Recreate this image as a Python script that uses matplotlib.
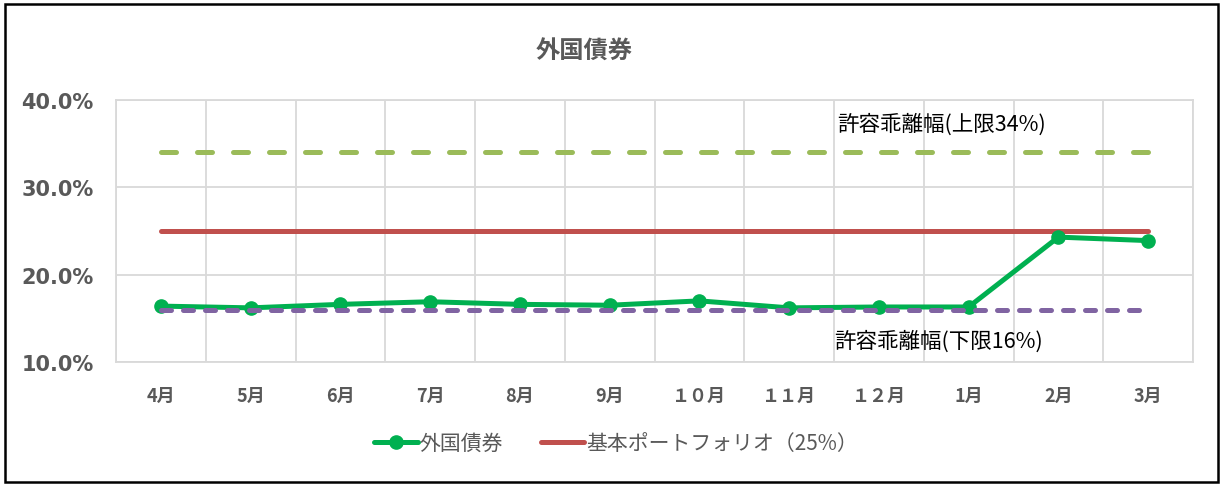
import matplotlib.pyplot as plt
from matplotlib.patches import Rectangle
from matplotlib.ticker import FuncFormatter

# data
months = ['4月', '5月', '6月', '7月', '8月', '9月', '１０月', '１１月', '１２月', '1月', '2月', '3月']
foreign_bonds = [16.4, 16.2, 16.6, 16.9, 16.6, 16.5, 17.0, 16.2, 16.3, 16.3, 24.3, 23.9]
base_portfolio = [25.0] * 12
upper_limit = [34.0] * 12
lower_limit = [16.0] * 12

jp = ['Noto Sans CJK JP', 'DejaVu Sans']
gray = '#595959'

fig = plt.figure(figsize=(12.23, 4.85), dpi=100)
ax = fig.add_axes([116 / 1223, 1 - 363 / 485, (1193 - 116) / 1223, (363 - 101) / 485])

x = list(range(len(months)))

ax.plot(x, upper_limit, color='#9BBB59', lw=3.6, dashes=(3.0, 4.2),
        dash_capstyle='round', zorder=3)
ax.plot(x, base_portfolio, color='#C0504D', lw=3.6, solid_capstyle='round',
        zorder=3, label='基本ポートフォリオ（25%）')
ax.plot(x, foreign_bonds, color='#00B050', lw=3.6, marker='o', markersize=9.5,
        solid_capstyle='round', zorder=4, label='外国債券')
ax.plot(x, lower_limit, color='#8064A2', lw=3.6, dashes=(2.0, 2.4),
        dash_capstyle='round', zorder=5)

ax.set_xlim(-0.5, 11.5)
ax.set_ylim(10, 40)
ax.set_yticks([10, 20, 30, 40])
ax.yaxis.set_major_formatter(FuncFormatter(lambda v, p: f'{v:.1f}%'))
ax.set_xticks([i - 0.5 for i in range(13)], minor=True)
ax.set_xticks(x)
ax.set_xticklabels(months, family=jp, fontweight='bold', fontsize=13, color=gray)
for lab in ax.get_yticklabels():
    lab.set_fontweight('bold')
    lab.set_fontsize(15)
    lab.set_color(gray)
    lab.set_family('DejaVu Sans')

ax.tick_params(axis='both', which='both', length=0)
ax.tick_params(axis='x', pad=17)
ax.tick_params(axis='y', pad=16)
ax.grid(True, axis='y', which='major', color='#D9D9D9', lw=1.3)
ax.grid(True, axis='x', which='minor', color='#D9D9D9', lw=1.3)
for s in ax.spines.values():
    s.set_color('#D9D9D9')
    s.set_linewidth(1.3)

ax.text(7.53, 37.3, '許容乖離幅(上限34%)', family=jp, fontsize=15.5,
        color='black', va='center', ha='left')
ax.text(7.5, 12.4, '許容乖離幅(下限16%)', family=jp, fontsize=15.5,
        color='black', va='center', ha='left')

fig.text(584 / 1223, 1 - 52 / 485, '外国債券', family=jp, fontsize=17.5,
         fontweight='bold', color=gray, ha='center', va='center')

handles, labels = ax.get_legend_handles_labels()
leg = fig.legend(handles[::-1], labels[::-1], loc='center', bbox_to_anchor=(616 / 1223, 1 - 444 / 485),
                 ncol=2, frameon=False, handlelength=2.1, columnspacing=1.8,
                 handletextpad=0.1, prop={'family': jp, 'size': 15})
for t in leg.get_texts():
    t.set_color(gray)

fig.patches.append(Rectangle((5 / 1223, 2 / 485), 1213 / 1223, 478 / 485,
                             transform=fig.transFigure, fill=False,
                             edgecolor='black', lw=1.8))

fig.savefig('out.png', dpi=100)
